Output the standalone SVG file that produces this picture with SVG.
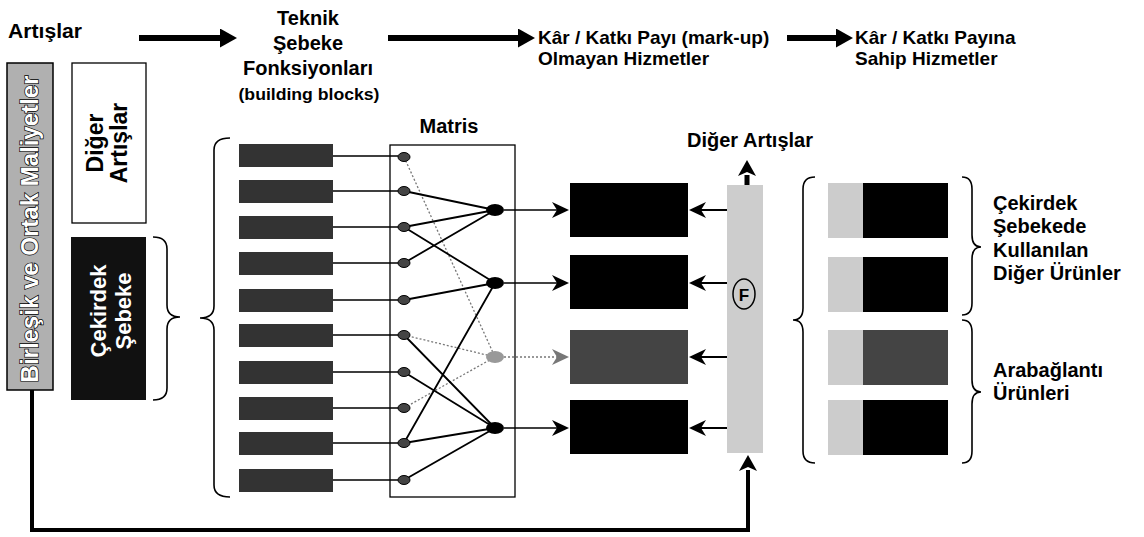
<svg xmlns="http://www.w3.org/2000/svg" width="1144" height="537" viewBox="0 0 1144 537">
<style>
text{font-family:"Liberation Sans",Arial,sans-serif;font-weight:bold;fill:#000}
.t20{font-size:20px}
.t19{font-size:19px}
.brace{fill:none;stroke:#000;stroke-width:1.6}
.in{stroke:#000;stroke-width:1.5;fill:none}
.mx{stroke:#000;stroke-width:1.8;fill:none}
.mxg{stroke:#777;stroke-width:1.3;stroke-dasharray:2 2;fill:none}
.sn{fill:#444;stroke:#000;stroke-width:1}
.bn{fill:#000}
.blk{fill:#333}
</style>
<defs>
<marker id="ah" markerUnits="userSpaceOnUse" markerWidth="17" markerHeight="16" refX="5" refY="8" orient="auto" viewBox="0 0 17 16"><path d="M0,0 L17,8 L0,16 L5,8 z" fill="#000"/></marker>
<marker id="ahg" markerUnits="userSpaceOnUse" markerWidth="17" markerHeight="16" refX="5" refY="8" orient="auto" viewBox="0 0 17 16"><path d="M0,0 L17,8 L0,16 L5,8 z" fill="#777"/></marker>
<marker id="big" markerUnits="userSpaceOnUse" markerWidth="17" markerHeight="19" refX="1" refY="9.5" orient="auto" viewBox="0 0 17 19"><path d="M0,0 L17,9.5 L0,19 z" fill="#000"/></marker>
<marker id="up" markerUnits="userSpaceOnUse" markerWidth="16" markerHeight="18" refX="1" refY="9" orient="auto" viewBox="0 0 16 18"><path d="M0,0 L16,9 L0,18 L4,9 z" fill="#000"/></marker>
</defs>

<g id="header">
<text class="t20" x="8" y="38" textLength="74" lengthAdjust="spacingAndGlyphs">Artışlar</text>
<text class="t20" x="308" y="25" text-anchor="middle">Teknik</text>
<text class="t20" x="308" y="50" text-anchor="middle">Şebeke</text>
<text class="t20" x="308" y="75" text-anchor="middle">Fonksiyonları</text>
<text x="309" y="100" text-anchor="middle" font-size="16" textLength="141" lengthAdjust="spacingAndGlyphs">(building blocks)</text>
<text class="t19" x="538" y="44">Kâr / Katkı Payı (mark-up)</text>
<text class="t19" x="538" y="65">Olmayan Hizmetler</text>
<text class="t19" x="855" y="44">Kâr / Katkı Payına</text>
<text class="t19" x="855" y="65">Sahip Hizmetler</text>
</g>

<g id="joint-costs">
<rect x="7" y="63" width="46" height="327" fill="#b0b0b0" stroke="#000" stroke-width="1.5"/>
<text transform="translate(38,229) rotate(-90)" text-anchor="middle" font-size="24" style="fill:#fff;stroke:#000;stroke-width:1.4;paint-order:stroke">Birleşik ve Ortak Maliyetler</text>
</g>

<g id="other-increments">
<rect x="72" y="63" width="74" height="160" fill="#fff" stroke="#000" stroke-width="1.3"/>
<text transform="translate(103,143) rotate(-90)" text-anchor="middle" font-size="23">Diğer</text>
<text transform="translate(127,143) rotate(-90)" text-anchor="middle" font-size="23">Artışlar</text>
</g>

<g id="core-network">
<rect x="71" y="237" width="75" height="163" fill="#111"/>
<text transform="translate(106,311) rotate(-90)" text-anchor="middle" font-size="22" style="fill:#fff">Çekirdek</text>
<text transform="translate(131,311) rotate(-90)" text-anchor="middle" font-size="22" style="fill:#fff">Şebeke</text>
</g>

<g id="braces">
<path class="brace" d="M153,237 Q167,237 167,249 L167,305 Q167,317 180,317 Q167,317 167,329 L167,388 Q167,400 153,400"/>
<path class="brace" d="M230,138 Q214,138 214,150 L214,306 Q214,318 200,318 Q214,318 214,330 L214,485 Q214,497 230,497"/>
<path class="brace" d="M815,177 Q803,177 803,189 L803,308 Q803,320 793,320 Q803,320 803,332 L803,451 Q803,463 815,463"/>
<path class="brace" d="M962,177 Q972,177 972,189 L972,235 Q972,247 981,247 Q972,247 972,259 L972,303 Q972,315 962,315"/>
<path class="brace" d="M962,320 Q972,320 972,332 L972,380 Q972,392 981,392 Q972,392 972,404 L972,451 Q972,463 962,463"/>
</g>

<g id="building-blocks">
<rect class="blk" x="239" y="144" width="94" height="23"/>
<rect class="blk" x="239" y="180" width="94" height="23"/>
<rect class="blk" x="239" y="216" width="94" height="23"/>
<rect class="blk" x="239" y="252" width="94" height="23"/>
<rect class="blk" x="239" y="289" width="94" height="23"/>
<rect class="blk" x="239" y="324" width="94" height="23"/>
<rect class="blk" x="239" y="361" width="94" height="23"/>
<rect class="blk" x="239" y="397" width="94" height="23"/>
<rect class="blk" x="239" y="432" width="94" height="23"/>
<rect class="blk" x="239" y="469" width="94" height="23"/>
</g>

<g id="matrix">
<text class="t20" x="449" y="133" text-anchor="middle">Matris</text>
<rect x="390" y="145" width="125" height="352" fill="none" stroke="#000" stroke-width="1.3"/>
</g>

<g id="connectors">
<path class="in" d="M333,156H398M333,191H398M333,227H398M333,263H398M333,300H398M333,335H398M333,372H398M333,408H398M333,443H398M333,480H398"/>
<path class="mxg" d="M404,157L495,357M404,335L495,357M404,408L495,357"/>
<path class="mx" d="M404,191L495,210M404,227L495,210M404,263L495,210M404,227L495,283M404,300L495,283M404,443L495,283M404,335L495,428M404,372L495,428M404,443L495,428M404,480L495,428"/>
<line class="in" x1="504" y1="210" x2="557" y2="210" marker-end="url(#ah)"/>
<line class="in" x1="504" y1="283" x2="557" y2="283" marker-end="url(#ah)"/>
<line class="mxg" x1="504" y1="357" x2="557" y2="357" marker-end="url(#ahg)"/>
<line class="in" x1="504" y1="428" x2="557" y2="428" marker-end="url(#ah)"/>
<line stroke="#000" stroke-width="2" x1="727" y1="210" x2="701" y2="210" marker-end="url(#ah)"/>
<line stroke="#000" stroke-width="2" x1="727" y1="283" x2="701" y2="283" marker-end="url(#ah)"/>
<line stroke="#000" stroke-width="2" x1="727" y1="357" x2="701" y2="357" marker-end="url(#ah)"/>
<line stroke="#000" stroke-width="2" x1="727" y1="428" x2="701" y2="428" marker-end="url(#ah)"/>
<line stroke="#000" stroke-width="6" x1="139" y1="38" x2="221" y2="38" marker-end="url(#big)"/>
<line stroke="#000" stroke-width="6" x1="388" y1="38" x2="519" y2="38" marker-end="url(#big)"/>
<line stroke="#000" stroke-width="6" x1="787" y1="38" x2="837" y2="38" marker-end="url(#big)"/>
<line stroke="#000" stroke-width="5" x1="747" y1="185" x2="747" y2="175" marker-end="url(#up)"/>
<polyline fill="none" stroke="#000" stroke-width="4" points="32,390 32,530 748,530 748,470" marker-end="url(#up)"/>
</g>

<g id="matrix-nodes">
<ellipse class="sn" cx="404" cy="157" rx="6" ry="4.5"/>
<ellipse class="sn" cx="404" cy="191" rx="6" ry="4.5"/>
<ellipse class="sn" cx="404" cy="227" rx="6" ry="4.5"/>
<ellipse class="sn" cx="404" cy="263" rx="6" ry="4.5"/>
<ellipse class="sn" cx="404" cy="300" rx="6" ry="4.5"/>
<ellipse class="sn" cx="404" cy="335" rx="6" ry="4.5"/>
<ellipse class="sn" cx="404" cy="372" rx="6" ry="4.5"/>
<ellipse class="sn" cx="404" cy="408" rx="6" ry="4.5"/>
<ellipse class="sn" cx="404" cy="443" rx="6" ry="4.5"/>
<ellipse class="sn" cx="404" cy="480" rx="6" ry="4.5"/>
<ellipse class="bn" cx="495" cy="210" rx="9" ry="6"/>
<ellipse class="bn" cx="495" cy="283" rx="9" ry="6"/>
<ellipse cx="495" cy="357" rx="9" ry="6" fill="#999"/>
<ellipse class="bn" cx="495" cy="428" rx="9" ry="6"/>
</g>

<g id="services">
<rect x="570" y="183" width="118" height="54" fill="#000"/>
<rect x="570" y="255" width="118" height="54" fill="#000"/>
<rect x="570" y="330" width="118" height="54" fill="#444"/>
<rect x="570" y="400" width="118" height="54" fill="#000"/>
</g>

<g id="f-bar">
<rect x="727" y="185" width="36" height="268" fill="#cdcdcd"/>
<ellipse cx="744" cy="294" rx="11" ry="15" fill="none" stroke="#000" stroke-width="1.5"/>
<text x="744" y="301" text-anchor="middle" font-size="17">F</text>
<text class="t20" x="750" y="147" text-anchor="middle">Diğer Artışlar</text>
</g>

<g id="products">
<rect x="828" y="183" width="35" height="55" fill="#cccccc"/>
<rect x="863" y="183" width="85" height="55" fill="#000"/>
<rect x="828" y="257" width="35" height="55" fill="#cccccc"/>
<rect x="863" y="257" width="85" height="55" fill="#000"/>
<rect x="828" y="330" width="35" height="55" fill="#cccccc"/>
<rect x="863" y="330" width="85" height="55" fill="#444"/>
<rect x="828" y="400" width="35" height="55" fill="#cccccc"/>
<rect x="863" y="400" width="85" height="55" fill="#000"/>
</g>

<g id="labels-right">
<text class="t20" x="993" y="210">Çekirdek</text>
<text class="t20" x="993" y="233">Şebekede</text>
<text class="t20" x="993" y="257">Kullanılan</text>
<text class="t20" x="993" y="280">Diğer Ürünler</text>
<text class="t20" x="993" y="377">Arabağlantı</text>
<text class="t20" x="993" y="400">Ürünleri</text>
</g>
</svg>
